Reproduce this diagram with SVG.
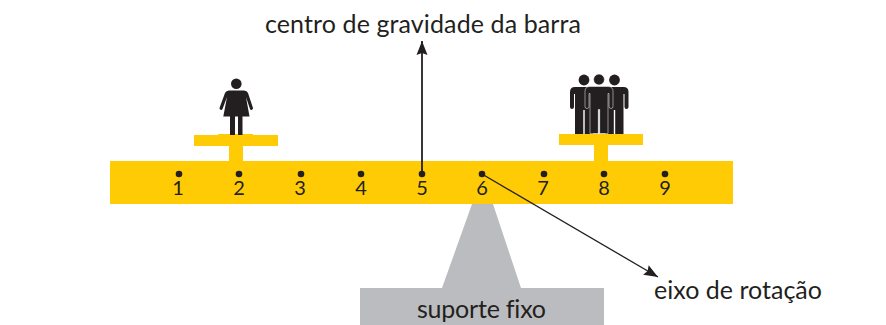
<svg xmlns="http://www.w3.org/2000/svg" width="886" height="325" viewBox="0 0 886 325">
  <style>
    .y{fill:#FFCB05}.g{fill:#BBBCBF}.k{fill:#231F20}
    text{font-family:"Lato","Open Sans",sans-serif;fill:#231F20;font-variant-ligatures:none}
    .t{font-size:25px}.n{font-size:20px;text-anchor:middle}
    .c{fill:none;stroke:#231F20}
  </style>
  <defs>
    <marker id="a" markerUnits="userSpaceOnUse" markerWidth="16" markerHeight="14" refX="14" refY="6" orient="auto">
      <path d="M0,0.500 L14,6 L0,11.500 L2,6Z" fill="#231F20"/>
    </marker>
    <g id="man">
      <circle cx="0" cy="80" r="5.400"/>
      <path d="M-9,87H9Q14,87 14,92V107a2,2 0 0 1-4,0V94H9V134H0.700V110H-0.700V134H-9V94H-10V107a2,2 0 0 1-4,0V92Q-14,87-9,87Z"/>
    </g>
  </defs>
  <g id="support">
    <path class="g" d="M472,204H493L521,288H604V325H360V288H442Z"/>
    <text class="t" x="417" y="318" textLength="129">suporte fixo</text>
  </g>
  <g id="bar">
    <rect class="y" x="110" y="161" width="623" height="43"/>
    <g class="k">
      <circle cx="179" cy="174" r="3.300"/><circle cx="239" cy="174" r="3.300"/><circle cx="301" cy="174" r="3.300"/>
      <circle cx="361" cy="174" r="3.300"/><circle cx="422" cy="174" r="3.300"/><circle cx="482" cy="174" r="3.300"/>
      <circle cx="544" cy="174" r="3.300"/><circle cx="604" cy="174" r="3.300"/><circle cx="665" cy="174" r="3.300"/>
    </g>
    <text class="n" x="178" y="194.500">1</text><text class="n" x="239" y="194.500">2</text><text class="n" x="300" y="194.500">3</text>
    <text class="n" x="361" y="194.500">4</text><text class="n" x="422" y="194.500">5</text><text class="n" x="482" y="194.500">6</text>
    <text class="n" x="543" y="194.500">7</text><text class="n" x="604" y="194.500">8</text><text class="n" x="665" y="194.500">9</text>
  </g>
  <g id="platform-left">
    <path class="y" d="M194,135H218V134H253V135H278V146H243V161H229V146H194Z"/>
  </g>
  <g id="woman" class="k">
    <circle cx="236.300" cy="83.800" r="5.300"/>
    <path d="M229,90.500H244Q247,90.500 248,93L253,108a1.600,1.600 0 0 1-3,1L246,97L249.500,116.500H242.500V135H238V116.500H235V135H230V116.500H223.300L227,97L222.500,109a1.600,1.600 0 0 1-3-1L225,93Q226,90.500 229,90.500Z"/>
  </g>
  <g id="platform-right">
    <path class="y" d="M559,134H643V145H608V161H594V145H559Z"/>
  </g>
  <g id="group" class="k">
    <use href="#man" x="584"/>
    <use href="#man" x="614.500"/>
    <use href="#man" x="599" y="-0.500" stroke="#fff" stroke-width="0.500"/>
  </g>
  <g id="connectors">
    <path class="c" stroke-width="1.800" d="M422,174V41" marker-end="url(#a)"/>
    <path class="c" stroke-width="1.300" d="M482,174L658,277" marker-end="url(#a)"/>
  </g>
  <g id="labels">
    <text class="t" x="265" y="33" textLength="316">centro de gravidade da barra</text>
    <text class="t" x="654" y="299" textLength="168">eixo de rotação</text>
  </g>
</svg>
